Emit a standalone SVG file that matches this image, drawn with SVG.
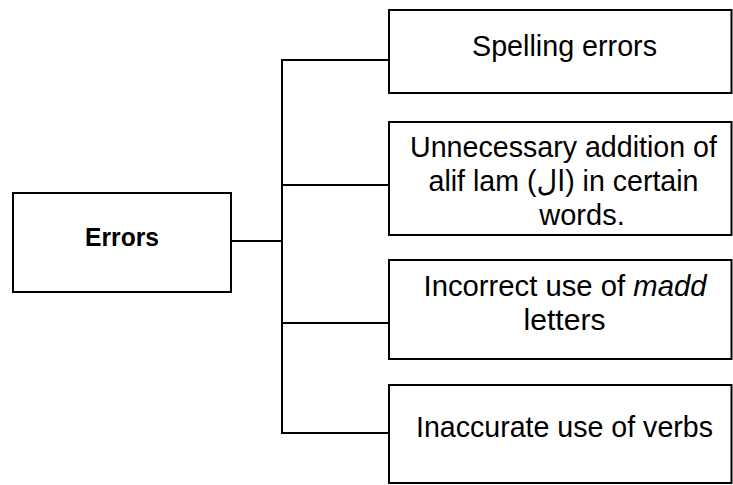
<svg xmlns="http://www.w3.org/2000/svg" width="733" height="485" viewBox="0 0 733 485">
<style>
.box{fill:#fff;stroke:#000;stroke-width:2}
.conn{fill:none;stroke:#000;stroke-width:2}
.t{font-family:"Liberation Sans","DejaVu Sans",Arial,sans-serif;font-size:29px;fill:#000}
.b{font-weight:bold;font-size:26px}
</style>
<rect width="733" height="485" fill="#fff"/>
<g id="connectors">
<path class="conn" d="M231 241 H282"/>
<path class="conn" d="M389 60 H282 V433 H389"/>
<path class="conn" d="M282 185 H389"/>
<path class="conn" d="M282 323 H389"/>
</g>
<g id="errors">
<rect class="box" x="13" y="193" width="218" height="99"/>
<text class="t b" x="85" y="246" textLength="74" lengthAdjust="spacingAndGlyphs">Errors</text>
</g>
<g id="spelling">
<rect class="box" x="389" y="10" width="342.5" height="83"/>
<text class="t" x="472" y="56" textLength="185" lengthAdjust="spacingAndGlyphs">Spelling errors</text>
</g>
<g id="alif-lam">
<rect class="box" x="389" y="122" width="342.5" height="113"/>
<text class="t" x="410" y="157" textLength="307" lengthAdjust="spacingAndGlyphs">Unnecessary addition of</text>
<text class="t" x="428.5" y="191" textLength="270" lengthAdjust="spacingAndGlyphs">alif lam (ال) in certain</text>
<text class="t" x="582" y="225" text-anchor="middle" font-size="30">words.</text>
</g>
<g id="madd">
<rect class="box" x="389" y="260" width="342.5" height="99"/>
<text class="t" x="423.5" y="296" textLength="283" lengthAdjust="spacingAndGlyphs">Incorrect use of <tspan font-style="italic">madd</tspan></text>
<text class="t" x="523.5" y="330" textLength="82" lengthAdjust="spacingAndGlyphs">letters</text>
</g>
<g id="verbs">
<rect class="box" x="389" y="385" width="342.5" height="98"/>
<text class="t" x="416" y="437" textLength="297" lengthAdjust="spacingAndGlyphs">Inaccurate use of verbs</text>
</g>
</svg>
